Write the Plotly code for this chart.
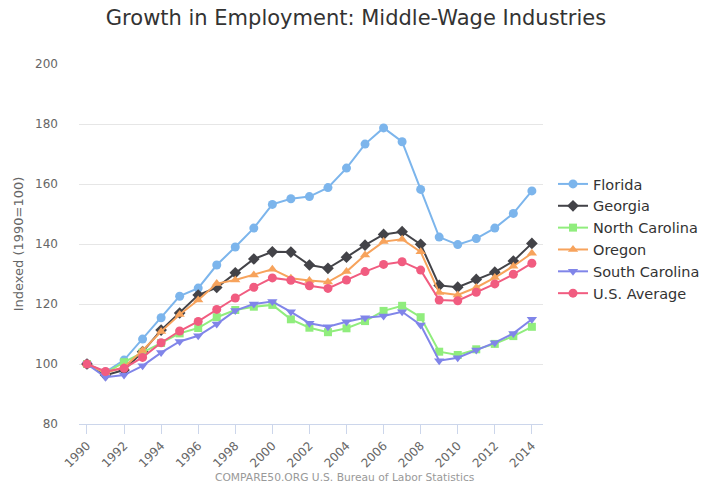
import plotly.graph_objects as go

years = list(range(1990, 2015))

florida = [100, 97.3, 101.3, 108.3, 115.4, 122.6, 125.3, 133.0, 139.0, 145.3, 153.2, 155.1, 155.8,
           158.8, 165.3, 173.3, 178.7, 174.1, 158.2, 142.3, 139.8, 141.8, 145.3, 150.2, 157.7]
georgia = [100, 96.3, 98.0, 104.1, 111.3, 117.0, 123.0, 125.5, 130.4, 135.0, 137.4, 137.3, 133.0,
           131.9, 135.6, 139.6, 143.2, 144.1, 139.9, 126.2, 125.6, 128.2, 130.6, 134.3, 140.2]
north_carolina = [100, 97.0, 100.6, 103.8, 107.0, 110.2, 112.0, 115.6, 118.0, 119.1, 119.7, 114.9, 112.1,
                  110.6, 111.9, 114.3, 117.7, 119.4, 115.6, 104.1, 103.0, 104.9, 106.7, 109.3, 112.4]
oregon = [100, 97.0, 99.0, 104.5, 110.8, 116.5, 121.3, 126.8, 128.0, 129.7, 131.6, 128.6, 127.8,
          127.3, 130.8, 136.3, 140.8, 141.6, 137.4, 123.8, 123.0, 125.5, 128.8, 132.6, 136.9]
south_carolina = [100, 95.6, 96.3, 99.4, 103.8, 107.5, 109.4, 113.3, 117.8, 120.0, 120.8, 117.4, 113.6,
                  112.4, 114.1, 115.4, 116.0, 117.4, 113.0, 101.1, 102.1, 104.7, 107.1, 110.2, 114.9]
us_average = [100, 97.5, 98.6, 102.2, 107.1, 111.0, 114.2, 118.2, 122.0, 125.6, 128.7, 127.9, 126.1,
              125.2, 128.0, 130.8, 133.2, 134.1, 131.3, 121.3, 121.1, 123.9, 126.7, 129.9, 133.6]

series = [
    ("Florida", florida, "#7cb5ec", "circle", 9),
    ("Georgia", georgia, "#434348", "diamond", 9),
    ("North Carolina", north_carolina, "#90ed7d", "square", 8),
    ("Oregon", oregon, "#f7a35c", "triangle-up", 9),
    ("South Carolina", south_carolina, "#8085e9", "triangle-down", 9),
    ("U.S. Average", us_average, "#f15c80", "circle", 9),
]

FONT = "DejaVu Sans"
W, H = 707, 487

fig = go.Figure()
for name, vals, color, symbol, size in series:
    fig.add_trace(go.Scatter(
        x=years, y=vals, name=name, mode="lines+markers",
        line=dict(color=color, width=2),
        marker=dict(symbol=symbol, size=size, color=color, line=dict(width=0)),
    ))

fig.update_layout(
    width=W, height=H,
    margin=dict(l=79, r=164, t=64, b=63, autoexpand=False),
    paper_bgcolor="white", plot_bgcolor="white",
    font=dict(family=FONT, color="#666666"),
    title=dict(text="Growth in Employment: Middle-Wage Industries",
               x=356 / W, xref="container", xanchor="center",
               y=1 - 18 / H, yref="container", yanchor="middle",
               font=dict(family=FONT, size=21, color="#333333")),
    legend=dict(xref="container", yref="container",
                x=553 / W, xanchor="left", y=1 - 168 / H, yanchor="top",
                font=dict(family=FONT, size=14.5, color="#333333"),
                bgcolor="rgba(0,0,0,0)", tracegroupgap=0),
    showlegend=True,
)

fig.update_xaxes(
    range=[1989.57, 2014.6], tickmode="array", tickvals=years[::2],
    ticktext=[str(y) for y in years[::2]], tickangle=-45,
    ticks="outside", ticklen=9, tickcolor="#ccd6eb", tickwidth=1,
    showline=True, linecolor="#ccd6eb", linewidth=1, showgrid=False, zeroline=False,
    tickfont=dict(family=FONT, size=12, color="#666666"),
)
fig.update_yaxes(
    range=[80, 200], tickvals=[80, 100, 120, 140, 160, 180, 200],
    showgrid=True, gridcolor="#e6e6e6", gridwidth=1, zeroline=False, showline=False,
    ticks="", ticklabelstandoff=20,
    tickfont=dict(family=FONT, size=12, color="#666666"),
    title=dict(text="Indexed (1990=100)", standoff=8,
               font=dict(family=FONT, size=13, color="#666666")),
)

fig.add_annotation(
    text="COMPARE50.ORG U.S. Bureau of Labor Statistics",
    xref="paper", yref="paper", x=(345 - 79) / 464, y=-(478 - 424) / 360,
    xanchor="center", yanchor="middle",
    showarrow=False, font=dict(family=FONT, size=10.7, color="#999999"),
)

fig.write_html("out.html")
